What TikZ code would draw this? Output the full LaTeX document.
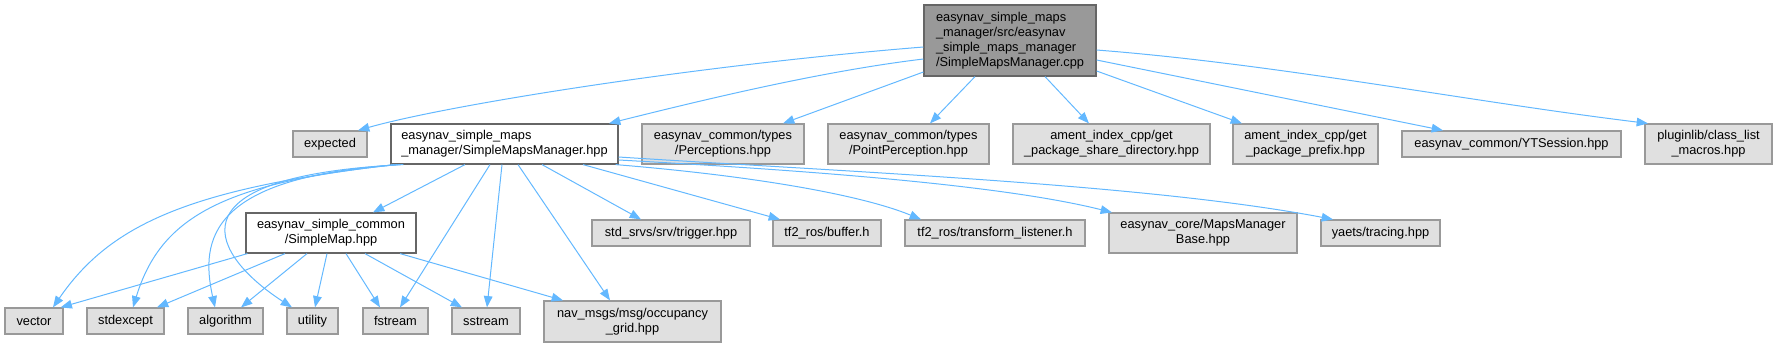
\documentclass[tikz,border=0pt]{standalone}
\usepackage{fontspec}
\setmainfont{Liberation Sans}
\usetikzlibrary{arrows.meta,calc}

\definecolor{edgeblue}{HTML}{63B8FF}
\definecolor{hdrfill}{HTML}{E0E0E0}
\definecolor{hdrline}{HTML}{999999}
\definecolor{docline}{HTML}{666666}
\definecolor{rootfill}{HTML}{999999}

\begin{document}
\begin{tikzpicture}[x=0.75pt, y=-0.75pt]

% --- Styles ---
\tikzset{
    box/.style 2 args={minimum width=#1*0.75pt, minimum height=#2*0.75pt},
    node base/.style={rectangle, inner sep=0pt, line width=0.9pt,
        font=\fontsize{9.6}{11.25}\selectfont},
    hdr/.style={node base, fill=hdrfill, draw=hdrline, align=center},
    doc/.style={node base, fill=white, draw=docline, align=left},
    rootfile/.style={node base, fill=rootfill, draw=docline, align=left},
    dep/.style={
        -{Triangle[length=8.5pt, width=6.5pt]},
        draw=edgeblue,
        line width=0.75pt
    }
}

\useasboundingbox (0,0) rectangle (1778,347);

% --- Bron (boven) ---
\node[rootfile, box={172}{71}] (root) at (1010,40.5)
    {easynav\_simple\_maps\\\_manager/src/easynav\\\_simple\_maps\_manager\\/SimpleMapsManager.cpp};

% --- Rij 2 ---
\node[hdr, box={74}{26}]  (expected)  at (330,144)    {expected};
\node[doc, box={227}{40}] (smm)       at (504.5,144)  {easynav\_simple\_maps\\\_manager/SimpleMapsManager.hpp};
\node[hdr, box={162}{40}] (percs)     at (723,144)    {easynav\_common/types\\/Perceptions.hpp};
\node[hdr, box={161}{40}] (pointperc) at (908.5,144)  {easynav\_common/types\\/PointPerception.hpp};
\node[hdr, box={197}{40}] (sharedir)  at (1111.5,144) {ament\_index\_cpp/get\\\_package\_share\_directory.hpp};
\node[hdr, box={145}{40}] (prefix)    at (1305.5,144) {ament\_index\_cpp/get\\\_package\_prefix.hpp};
\node[hdr, box={219}{26}] (ytsession) at (1511.5,144) {easynav\_common/YTSession.hpp};
\node[hdr, box={127}{40}] (classlist) at (1708.5,144) {pluginlib/class\_list\\\_macros.hpp};

% --- Rij 3 ---
\node[doc, box={170}{40}, align=center] (simplemap) at (331,233) {easynav\_simple\_common\\/SimpleMap.hpp};
\node[hdr, box={158}{26}] (trigger)   at (671,233)    {std\_srvs/srv/trigger.hpp};
\node[hdr, box={108}{26}] (buffer)    at (827,233)    {tf2\_ros/buffer.h};
\node[hdr, box={180}{26}] (listener)  at (995,233)    {tf2\_ros/transform\_listener.h};
\node[hdr, box={188}{40}] (mapsbase)  at (1203,233)   {easynav\_core/MapsManager\\Base.hpp};
\node[hdr, box={119}{26}] (tracing)   at (1380.5,233) {yaets/tracing.hpp};

% --- Rij 4 ---
\node[hdr, box={58}{26}]  (vector)    at (34,321)     {vector};
\node[hdr, box={77}{26}]  (stdexcept) at (125.5,321)  {stdexcept};
\node[hdr, box={75}{26}]  (algorithm) at (225.5,321)  {algorithm};
\node[hdr, box={51}{26}]  (utility)   at (312.5,321)  {utility};
\node[hdr, box={65}{26}]  (fstream)   at (395.5,321)  {fstream};
\node[hdr, box={68}{26}]  (sstream)   at (486,321)    {sstream};
\node[hdr, box={177}{41}] (occgrid)   at (632.5,321.5) {nav\_msgs/msg/occupancy\\\_grid.hpp};

% ==========================================
% --- Includes ---
% ==========================================

% root -> rij 2
\draw[dep] ($(root.west)+(0,6.5)$) .. controls +(-224,18) and +(92,-26) .. ($(expected.north)+(28,0)$);
\draw[dep] ($(root.west)+(0,18.5)$) .. controls +(-100,12) and +(100,-25) .. ($(smm.north)+(104.5,0)$);
\draw[dep] ($(root.west)+(0,31.5)$) -- ($(percs.north)+(60,0)$);
\draw[dep] ($(root.south)+(-35,0)$) -- ($(pointperc.north)+(21.5,0)$);
\draw[dep] ($(root.south)+(35,0)$) -- ($(sharedir.north)+(-22.5,0)$);
\draw[dep] ($(root.east)+(0,30.5)$) -- ($(prefix.north)+(-63.5,0)$);
\draw[dep] ($(root.east)+(0,19.5)$) -- ($(ytsession.north)+(-68.5,0)$);
\draw[dep] ($(root.east)+(0,9.5)$) .. controls +(180,14) and +(-180,-22) .. ($(classlist.north)+(-60.5,0)$);

% smm -> links (bogen)
\draw[dep] ($(smm.south west)+(4,0)$) .. controls +(-205,24) and +(57,-83) .. ($(vector.north)+(19,0)$);
\draw[dep] ($(smm.south west)+(7,0)$) .. controls +(-178,18) and +(27,-88) .. ($(stdexcept.north)+(7.5,0)$);
\draw[dep] ($(smm.south west)+(10,0)$) .. controls +(-191,12) and +(-15,-68) .. ($(algorithm.north)+(-10.5,0)$);
\draw[dep] ($(smm.south west)+(13,0)$) .. controls +(-244,12) and +(-77,-50) .. ($(utility.north)+(-20.5,0)$);

% smm -> onder
\draw[dep] ($(smm.south)+(-39.5,0)$) -- ($(simplemap.north)+(42,0)$);
\draw[dep] ($(smm.south)+(-14.5,0)$) -- ($(fstream.north)+(4.5,0)$);
\draw[dep] ($(smm.south)+(-2.5,0)$) -- ($(sstream.north)+(1,0)$);
\draw[dep] ($(smm.south)+(13.5,0)$) -- ($(occgrid.north)+(-22.5,0)$);
\draw[dep] ($(smm.south)+(37.5,0)$) -- ($(trigger.north)+(-30,0)$);
\draw[dep] ($(smm.south)+(78.5,0)$) -- ($(buffer.north)+(-47,0)$);

% smm -> rechts (bogen)
\draw[dep] ($(smm.south east)+(-3,0)$) .. controls +(135,11) and +(-61,-25) .. ($(listener.north)+(-74,0)$);
\draw[dep] ($(smm.east)+(0,16)$) .. controls +(182,10) and +(-112,-28) .. ($(mapsbase.north)+(-91,0)$);
\draw[dep] ($(smm.east)+(0,13)$) .. controls +(232,15) and +(-183,-35) .. ($(tracing.north)+(-47.5,0)$);

% simplemap -> rij 4
\draw[dep] ($(simplemap.south west)+(2,0)$) -- ($(vector.north east)+(-3,0)$);
\draw[dep] ($(simplemap.south)+(-46,0)$) -- ($(stdexcept.north)+(31.5,0)$);
\draw[dep] ($(simplemap.south)+(-24,0)$) -- ($(algorithm.north)+(15.5,0)$);
\draw[dep] ($(simplemap.south)+(-4,0)$) -- ($(utility.north)+(2.5,0)$);
\draw[dep] ($(simplemap.south)+(15,0)$) -- ($(fstream.north)+(-15.5,0)$);
\draw[dep] ($(simplemap.south)+(34,0)$) -- ($(sstream.north)+(-24,0)$);
\draw[dep] ($(simplemap.south)+(69,0)$) -- ($(occgrid.north)+(-69.5,0)$);

\end{tikzpicture}
\end{document}
